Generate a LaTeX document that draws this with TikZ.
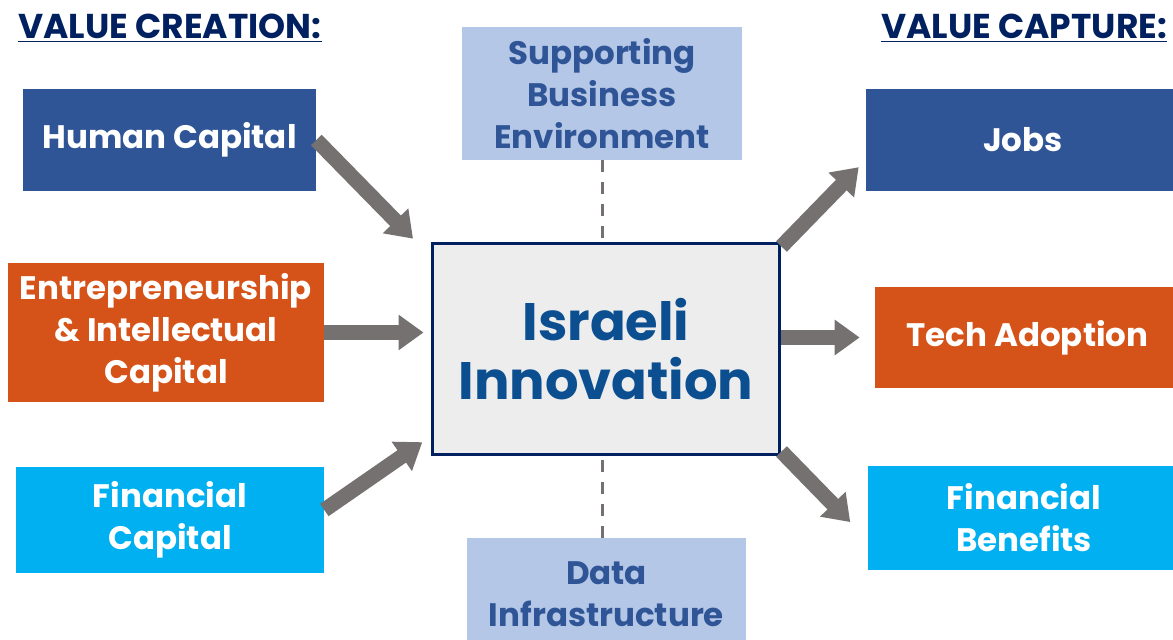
\documentclass[tikz,border=0pt]{standalone}
\usepackage{fontspec}
\setmainfont{Poppins}
\usetikzlibrary{arrows.meta}

\definecolor{navyblue}{HTML}{2F5597}
\definecolor{burntorange}{HTML}{D55318}
\definecolor{skyblue}{HTML}{00B0F0}
\definecolor{paleblue}{HTML}{B4C7E7}
\definecolor{darknavy}{HTML}{002060}
\definecolor{innoblue}{HTML}{0B4F91}
\definecolor{arrowgrey}{HTML}{767171}
\definecolor{boxgrey}{HTML}{EDEDED}

\tikzset{
  valuebox/.style={shape=rectangle,inner sep=2pt,align=center,text=white,font=\bfseries\fontsize{18.5}{24}\selectfont},
  sidebox/.style={shape=rectangle,inner sep=2pt,align=center,fill=paleblue,text=navyblue,font=\bfseries\fontsize{18.5}{24}\selectfont},
  bigarrow/.style={draw=arrowgrey,line width=0.3cm,-{Triangle[length=0.5cm,width=0.68cm]}},
  dashline/.style={draw=arrowgrey,line width=0.06cm,dash pattern=on 0.24cm off 0.2cm}
}

\begin{document}
\begin{tikzpicture}[x=0.02cm,y=-0.02cm]
  \useasboundingbox (0,0) rectangle (1173,639);
  \clip (0,0) rectangle (1173,639);

  \node[text=darknavy,font=\bfseries\fontsize{19.6}{22}\selectfont] (creationTitle) at (170,28) {\underline{VALUE CREATION:}};
  \node[text=darknavy,font=\bfseries\fontsize{19.6}{22}\selectfont] (captureTitle) at (1024,28) {\underline{VALUE CAPTURE:}};

  \node[valuebox,fill=navyblue,minimum width=5.86cm,minimum height=2.04cm] (humanCapital) at (169.5,140) {Human Capital};
  \node[valuebox,fill=burntorange,minimum width=6.32cm,minimum height=2.78cm] (entrepreneurship) at (166,332.5) {Entrepreneurship\\\& Intellectual\\Capital};
  \node[valuebox,fill=skyblue,minimum width=6.16cm,minimum height=2.12cm] (financialCapital) at (170,520) {Financial\\Capital};

  \node[sidebox,minimum width=5.6cm,minimum height=2.66cm] (supporting) at (602,93.5) {Supporting\\Business\\Environment};
  \node[sidebox,minimum width=5.58cm,minimum height=2.24cm] (dataInfra) at (606.5,594) {Data\\Infrastructure};

  \node[shape=rectangle,draw=darknavy,line width=0.06cm,fill=boxgrey,text=innoblue,align=center,minimum width=6.96cm,minimum height=4.24cm,font=\bfseries\fontsize{30}{34}\selectfont] (israeliInnovation) at (606,349) {Israeli\\Innovation};

  \node[valuebox,fill=navyblue,minimum width=6.28cm,minimum height=2.04cm] (jobs) at (1023,140) {Jobs};
  \node[valuebox,fill=burntorange,minimum width=6.1cm,minimum height=2.02cm] (techAdoption) at (1027.5,337.5) {Tech Adoption};
  \node[valuebox,fill=skyblue,minimum width=6.24cm,minimum height=2.08cm] (financialBenefits) at (1024,518) {Financial\\Benefits};

  \path [dashline] (supporting.south) -- (supporting.south |- israeliInnovation.north);
  \path [dashline] (dataInfra.north -| supporting.south) -- (supporting.south |- israeliInnovation.south);

  \path [bigarrow,shorten >=0.5cm] (humanCapital.east) -- ([yshift=-0.3cm]israeliInnovation.north west);
  \path [bigarrow,shorten >=0.14cm] (entrepreneurship.east) -- (entrepreneurship.east -| israeliInnovation.west);
  \path [bigarrow,shorten >=0.2cm] ([yshift=0.2cm]financialCapital.east) -- ([yshift=0.4cm]israeliInnovation.south west);
  \path [bigarrow,shorten >=0.2cm] ([yshift=-0.1cm]israeliInnovation.north east) -- ([yshift=-0.4cm]jobs.west);
  \path [bigarrow,shorten >=0.3cm] (israeliInnovation.east |- techAdoption.west) -- (techAdoption.west);
  \path [bigarrow,shorten >=0.5cm] ([yshift=0.1cm]israeliInnovation.south east) -- ([yshift=-0.44cm]financialBenefits.west);
\end{tikzpicture}
\end{document}
